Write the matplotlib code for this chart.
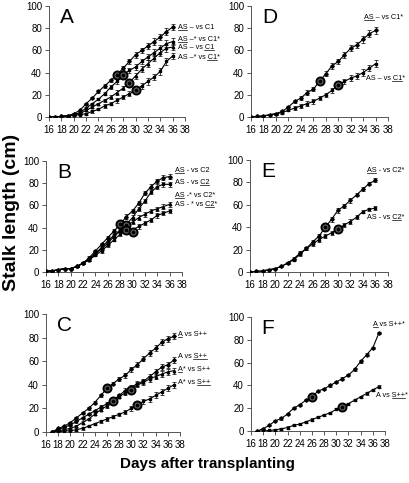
import matplotlib
matplotlib.use("Agg")
import matplotlib.pyplot as plt
from matplotlib.lines import Line2D

plt.rcParams['font.family'] = ['Liberation Sans', 'DejaVu Sans']

# ---- data ----
dias_AB = list(range(16, 37))
dias_CF = list(range(17, 38))

A1 = [0, 0, 0.5, 1, 3, 6, 12, 17, 23, 28, 33, 38, 44, 50, 56, 60, 64, 68, 72, 77, 81]
A2 = [0, 0, 0.5, 1, 2, 4, 8, 12, 16, 21, 27, 32, 38, 42, 45, 50, 54, 58, 62, 66, 68]
A3 = [0, 0, 0.5, 1, 2, 3, 6, 9, 12, 15, 18, 22, 26, 31, 37, 43, 48, 53, 58, 62, 63]
A4 = [0, 0, 0.5, 1, 1.5, 2, 3, 5, 7, 10, 12, 15, 18, 21, 24, 28, 32, 36, 41, 50, 55]
A_err = [0, 0, 0, 0, 0.5, 0.5, 1, 1, 1, 1.5, 1.5, 2, 2, 2, 2.5, 2.5, 3, 3, 3, 3, 3]
A_circ_x = [27, 28, 29, 30]
A_circ_y = [38, 38, 31, 24]
# (antes, subrayado, despues)
A_labels = [('', 'AS', ' – vs C1'), ('', 'AS', ' –* vs C1*'),
            ('AS – vs ', 'C1', ''), ('AS –* vs ', 'C1', '*')]
A_label_y = [81, 70, 63, 54]

D1 = [0, 0.5, 1, 2, 3, 5, 9, 14, 17, 22, 25, 32, 39, 46, 50, 56, 62, 65, 70, 75, 78]
D2 = [0, 0.5, 1, 2, 3, 4, 6, 8, 10, 12, 14, 17, 20, 24, 29, 32, 35, 37, 40, 44, 48]
D_err = [0, 0, 0, 0.5, 1, 1, 1, 1.5, 1.5, 2, 2, 2, 2, 2.5, 2.5, 2.5, 2.5, 3, 3, 3, 3]
D_circ_x = [27, 30]
D_circ_y = [32, 29]
D_labels = [('', 'AS', ' – vs C1*'), ('AS – vs ', 'C1', '*')]
D_label_x = [34.2, 34.4]
D_label_y = [90, 35]

B1 = [1, 1, 2, 3, 3, 5, 8, 13, 19, 25, 31, 37, 43, 50, 55, 62, 71, 77, 82, 85, 86]
B2 = [1, 1, 2, 3, 3, 5, 8, 12, 17, 22, 28, 33, 38, 43, 49, 57, 64, 72, 77, 79, 79]
B3 = [1, 1, 2, 3, 3, 5, 8, 11, 16, 21, 26, 32, 37, 42, 45, 49, 52, 55, 57, 59, 61]
B4 = [1, 1, 2, 3, 3, 5, 8, 11, 15, 19, 24, 29, 34, 37, 38, 41, 44, 47, 51, 53, 55]
B_err = [0, 0, 0, 0, 0.5, 0.5, 1, 1, 1, 1.5, 1.5, 1.5, 2, 2, 2, 2, 2, 2, 2, 2, 2]
B_circ_x = [28, 29, 29, 30]
B_circ_y = [43, 42, 38, 36]
B_labels = [('', 'AS', ' - vs C2'), ('AS - vs ', 'C2', ''),
            ('', 'AS', ' -* vs C2*'), ('AS - * vs ', 'C2', '*')]
B_label_y = [91, 81, 69, 61]

E1 = [0, 0.5, 1, 2, 3, 5, 8, 12, 17, 21, 27, 32, 40, 47, 55, 59, 64, 69, 74, 79, 82]
E2 = [0, 0.5, 1, 2, 3, 5, 8, 11, 16, 21, 25, 29, 32, 35, 38, 42, 45, 49, 54, 56, 57]
E_err = [0, 0, 0, 0, 0.5, 0.5, 1, 1, 1.5, 1.5, 2, 2, 2, 2, 2, 2, 2, 1.5, 1.5, 1.5, 1.5]
E_circ_x = [28, 30]
E_circ_y = [40, 38]
E_labels = [('', 'AS', ' - vs C2*'), ('AS - vs ', 'C2', '*')]
E_label_x = [34.6, 34.6]
E_label_y = [91, 49]

C1 = [0, 3, 5, 8, 12, 16, 20, 25, 31, 37, 41, 45, 48, 53, 57, 62, 67, 71, 76, 79, 81]
C2 = [0, 2, 4, 6, 9, 12, 15, 18, 21, 24, 27, 31, 35, 38, 41, 43, 47, 51, 55, 57, 61]
C3 = [0, 1, 2, 3, 5, 8, 11, 15, 19, 22, 26, 30, 33, 36, 40, 42, 45, 47, 49, 51, 52]
C4 = [0, 0, 1, 1, 2, 3, 5, 7, 9, 11, 13, 15, 17, 20, 22, 26, 28, 31, 34, 37, 40]
C_err = [0, 0.5, 0.5, 0.5, 1, 1, 1, 1, 1.5, 1.5, 1.5, 1.5, 2, 2, 2, 2, 2.5, 2.5, 2.5, 2.5, 2.5]
C_circ_x = [26, 27, 30, 31]
C_circ_y = [37, 26, 36, 23]
C_labels = [('', 'A', ' vs S++'), ('A vs ', 'S++', ''),
            ('', 'A', '* vs S++'), ('A* vs ', 'S++', '')]
C_label_y = [83, 64, 53, 42]

F1 = [0, 2, 5, 9, 11, 15, 20, 23, 27, 30, 35, 37, 40, 43, 46, 49, 54, 61, 67, 73, 86]
F2 = [0, 0, 0.5, 1, 2, 3, 5, 6, 8, 10, 12, 14, 16, 19, 21, 24, 27, 30, 33, 36, 39]
F_err = [0, 0.5, 0.5, 0.5, 1, 1, 1, 1, 1, 1, 1, 1, 1, 1, 1, 1, 1, 1, 1, 1, 1]
F_circ_x = [26, 31]
F_circ_y = [30, 21]
F_labels = [('', 'A', ' vs S++*'), ('A vs ', 'S++', '*')]
F_label_x = [36.0, 36.6]
F_label_y = [93, 31]

# ---- figure ----
W, H = 410, 483
fig = plt.figure(figsize=(W / 100, H / 100), dpi=100)
subrayados = []


def crear_eje(izq, arriba, abajo, der):
    return fig.add_axes([izq / W, 1 - abajo / H, (der - izq) / W, (abajo - arriba) / H])


def estilo(ax, letra):
    ax.set_xlim(16, 38)
    ax.set_ylim(0, 100)
    ax.set_xticks(range(16, 39, 2))
    ax.set_yticks(range(0, 101, 20))
    ax.spines['top'].set_visible(False)
    ax.spines['right'].set_visible(False)
    for s in ['left', 'bottom']:
        ax.spines[s].set_linewidth(0.7)
        ax.spines[s].set_color('#555555')
    ax.tick_params(axis='both', direction='out', length=3, width=0.7, labelsize=7, pad=2,
                   colors='#555555', labelcolor='black')
    ax.tick_params(axis='x', pad=3)
    ax.text(0.08, 0.98, letra, transform=ax.transAxes, fontsize=15, va='top', ha='left')
    ax.patch.set_alpha(0)


def serie(ax, x, y, err, mk):
    ax.errorbar(x, y, yerr=err, color='black', lw=0.8, marker=mk, ms=1.8, elinewidth=0.5,
                capsize=1.5, capthick=0.5, zorder=3)


def circulos(ax, cx, cy):
    ax.plot(cx, cy, 'o', ms=5.8, mfc='#666666', mec='black', mew=1.4, zorder=5, linestyle='none')
    ax.plot(cx, cy, 'o', ms=1.8, color='black', zorder=6, linestyle='none')


def etiquetas(ax, xs, ys, textos):
    for x, y, (a, s, d) in zip(xs, ys, textos):
        t = ax.text(x, y, a + s + d, fontsize=5.2, va='center', ha='left', clip_on=False)
        subrayados.append((ax, x, y, a, s, t))


axA = crear_eje(49, 6, 117, 185)
axD = crear_eje(251, 6, 117, 388)
axB = crear_eje(46, 161, 272, 182)
axE = crear_eje(250, 160, 272, 388)
axC = crear_eje(46, 314, 432, 180)
axF = crear_eje(251, 317, 431, 385)

# A
for y, mk in zip([A1, A2, A3, A4], ['D', 's', '^', 's']):
    serie(axA, dias_AB, y, A_err, mk)
circulos(axA, A_circ_x, A_circ_y)
etiquetas(axA, [36.8] * 4, A_label_y, A_labels)
estilo(axA, 'A')

# D
for y, mk in zip([D1, D2], ['D', 's']):
    serie(axD, dias_AB, y, D_err, mk)
circulos(axD, D_circ_x, D_circ_y)
etiquetas(axD, D_label_x, D_label_y, D_labels)
estilo(axD, 'D')

# B
for y, mk in zip([B1, B2, B3, B4], ['D', 's', '^', 's']):
    serie(axB, dias_AB, y, B_err, mk)
circulos(axB, B_circ_x, B_circ_y)
etiquetas(axB, [36.8] * 4, B_label_y, B_labels)
estilo(axB, 'B')

# E
for y, mk in zip([E1, E2], ['D', 's']):
    serie(axE, dias_AB, y, E_err, mk)
circulos(axE, E_circ_x, E_circ_y)
etiquetas(axE, E_label_x, E_label_y, E_labels)
estilo(axE, 'E')

# C
for y, mk in zip([C1, C2, C3, C4], ['D', 'D', '^', 's']):
    serie(axC, dias_CF, y, C_err, mk)
circulos(axC, C_circ_x, C_circ_y)
etiquetas(axC, [37.6] * 4, C_label_y, C_labels)
estilo(axC, 'C')

# F
for y, mk in zip([F1, F2], ['D', 's']):
    serie(axF, dias_CF, y, F_err, mk)
circulos(axF, F_circ_x, F_circ_y)
etiquetas(axF, F_label_x, F_label_y, F_labels)
estilo(axF, 'F')

fig.text(12 / W, 1 - 212 / H, 'Stalk length (cm)', rotation=90, fontsize=14, fontweight='bold',
         va='center', ha='center')
fig.text(207 / W, 1 - 464 / H, 'Days after transplanting', fontsize=11, fontweight='bold',
         va='center', ha='center')

# subrayado manual (mathtext no tiene \underline)
fig.canvas.draw()
rend = fig.canvas.get_renderer()


def ancho(ax, txt):
    tmp = ax.text(0, 0, txt + 'X', fontsize=5.2)
    tx = fig.text(0, 0, 'X', fontsize=5.2)
    w = tmp.get_window_extent(rend).width - tx.get_window_extent(rend).width
    tmp.remove()
    tx.remove()
    return w


for ax, x, y, a, s, t in subrayados:
    bb = t.get_window_extent(rend)
    x0 = bb.x0 + (ancho(ax, a) if a else 0)
    x1 = bb.x0 + ancho(ax, a + s)
    yl = bb.y0 + 1.0
    p0 = fig.transFigure.inverted().transform((x0, yl))
    p1 = fig.transFigure.inverted().transform((x1, yl))
    fig.add_artist(Line2D([p0[0], p1[0]], [p0[1], p1[1]], color='black', lw=0.5))

fig.savefig('out.png', dpi=100)
